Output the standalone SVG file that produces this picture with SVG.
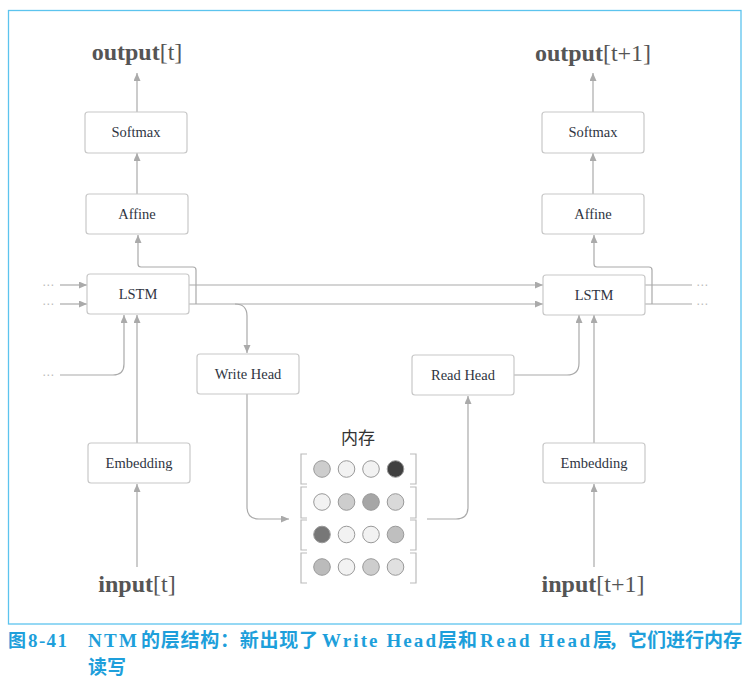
<svg xmlns="http://www.w3.org/2000/svg" width="750" height="689" viewBox="0 0 750 689">
<style>
.box{fill:#fff;stroke:#c8c8c8;stroke-width:1.2}
.lbl{font-family:"Liberation Serif","DejaVu Serif",serif;font-size:14.5px;fill:#2f3542;text-anchor:middle}
.io{font-family:"Liberation Serif","DejaVu Serif",serif;font-size:24px;fill:#555;text-anchor:middle}
.io .b{font-weight:bold}
.ln{fill:none;stroke:#aaa;stroke-width:1.2}
.arr{marker-end:url(#ah)}
.dots{font-family:"DejaVu Sans",sans-serif;font-size:12px;fill:#bbb}
.br{fill:none;stroke:#bbb;stroke-width:1.2}
.cell{stroke:#999;stroke-width:1}
.cap{font-family:"Liberation Serif","Noto Sans CJK SC",serif;font-size:19px;font-weight:bold;fill:#1e9fdb}
</style>
<defs>
<marker id="ah" markerUnits="userSpaceOnUse" markerWidth="9" markerHeight="8" refX="8" refY="3.5" orient="auto">
<path d="M0,0 L8,3.5 L0,7 z" fill="#aaa"/>
</marker>
</defs>
<rect x="8.5" y="10.5" width="732.5" height="613.5" fill="#fff" stroke="#5cc4ee" stroke-width="1.3"/>

<g id="connectors">
<path class="ln arr" d="M137,567 V484"/>
<path class="ln arr" d="M137,443 V315"/>
<path class="ln arr" d="M60,375 H113 Q124,375 124,364 V315"/>
<path class="ln arr" d="M60,285 H87"/>
<path class="ln arr" d="M60,304 H87"/>
<path class="ln arr" d="M189,285 H543"/>
<path class="ln arr" d="M189,304 H543"/>
<path class="ln arr" d="M196,304 V270 Q196,267 193,267 H141 Q138,267 138,264 V235"/>
<path class="ln arr" d="M137,194 V153"/>
<path class="ln arr" d="M137,112 V73"/>
<path class="ln arr" d="M235,304 Q247,304 247,316 V353"/>
<path class="ln arr" d="M247,394 V507 Q247,519 259,519 H289"/>
<path class="ln arr" d="M427,519 H456 Q468,519 468,507 V396"/>
<path class="ln arr" d="M514,375 H567 Q579,375 579,363 V315"/>
<path class="ln arr" d="M594,567 V484"/>
<path class="ln arr" d="M594,443 V315"/>
<path class="ln arr" d="M652,304 V270 Q652,267 649,267 H597 Q594,267 594,264 V235"/>
<path class="ln arr" d="M593,194 V153"/>
<path class="ln arr" d="M593,112 V73"/>
<path class="ln" d="M645,285 H692"/>
<path class="ln" d="M645,304 H692"/>
<text class="dots" x="42" y="289">⋯</text>
<text class="dots" x="42" y="308">⋯</text>
<text class="dots" x="42" y="379">⋯</text>
<text class="dots" x="696" y="289">⋯</text>
<text class="dots" x="696" y="308">⋯</text>
</g>

<g id="output_t"><text class="io" x="137" y="60"><tspan class="b">output</tspan>[t]</text></g>
<g id="output_t1"><text class="io" x="593" y="61"><tspan class="b">output</tspan>[t+1]</text></g>
<g id="input_t"><text class="io" x="137" y="592"><tspan class="b">input</tspan>[t]</text></g>
<g id="input_t1"><text class="io" x="593" y="592"><tspan class="b">input</tspan>[t+1]</text></g>

<g id="softmax_l"><rect class="box" x="85" y="112" width="102" height="41" rx="3"/><text class="lbl" x="136" y="137">Softmax</text></g>
<g id="affine_l"><rect class="box" x="86" y="194" width="102" height="40" rx="3"/><text class="lbl" x="137" y="219">Affine</text></g>
<g id="lstm_l"><rect class="box" x="87" y="274" width="102" height="40" rx="3"/><text class="lbl" x="138" y="299">LSTM</text></g>
<g id="embedding_l"><rect class="box" x="88" y="443" width="102" height="40" rx="3"/><text class="lbl" x="139" y="468">Embedding</text></g>

<g id="softmax_r"><rect class="box" x="542" y="112" width="102" height="41" rx="3"/><text class="lbl" x="593" y="137">Softmax</text></g>
<g id="affine_r"><rect class="box" x="542" y="194" width="102" height="40" rx="3"/><text class="lbl" x="593" y="219">Affine</text></g>
<g id="lstm_r"><rect class="box" x="543" y="275" width="102" height="40" rx="3"/><text class="lbl" x="594" y="300">LSTM</text></g>
<g id="embedding_r"><rect class="box" x="543" y="443" width="102" height="40" rx="3"/><text class="lbl" x="594" y="468">Embedding</text></g>

<g id="write_head"><rect class="box" x="197" y="354" width="102" height="40" rx="3"/><text class="lbl" x="248" y="379">Write Head</text></g>
<g id="read_head"><rect class="box" x="412" y="355" width="102" height="40" rx="3"/><text class="lbl" x="463" y="380">Read Head</text></g>

<g id="memory">
<text x="358" y="444" font-family="'Noto Sans CJK SC',sans-serif" font-size="17" fill="#333" text-anchor="middle">内存</text>
<path class="br" d="M307,454 H301 V484 H307 M410,454 H416 V484 H410"/>
<path class="br" d="M307,487 H301 V518 H307 M410,487 H416 V518 H410"/>
<path class="br" d="M307,520 H301 V550 H307 M410,520 H416 V550 H410"/>
<path class="br" d="M307,553 H301 V583 H307 M410,553 H416 V583 H410"/>
<circle class="cell" cx="322" cy="469" r="8.3" fill="#cdcdcd"/>
<circle class="cell" cx="346.5" cy="469" r="8.3" fill="#f2f2f2"/>
<circle class="cell" cx="371" cy="469" r="8.3" fill="#f2f2f2"/>
<circle class="cell" cx="395.5" cy="469" r="8.3" fill="#404040"/>
<circle class="cell" cx="322" cy="502" r="8.3" fill="#f2f2f2"/>
<circle class="cell" cx="346.5" cy="502" r="8.3" fill="#cdcdcd"/>
<circle class="cell" cx="371" cy="502" r="8.3" fill="#a6a6a6"/>
<circle class="cell" cx="395.5" cy="502" r="8.3" fill="#d9d9d9"/>
<circle class="cell" cx="322" cy="534.5" r="8.3" fill="#777"/>
<circle class="cell" cx="346.5" cy="534.5" r="8.3" fill="#f2f2f2"/>
<circle class="cell" cx="371" cy="534.5" r="8.3" fill="#f2f2f2"/>
<circle class="cell" cx="395.5" cy="534.5" r="8.3" fill="#bfbfbf"/>
<circle class="cell" cx="322" cy="567" r="8.3" fill="#bbb"/>
<circle class="cell" cx="346.5" cy="567" r="8.3" fill="#f2f2f2"/>
<circle class="cell" cx="371" cy="567" r="8.3" fill="#cdcdcd"/>
<circle class="cell" cx="395.5" cy="567" r="8.3" fill="#e0e0e0"/>
</g>

<g id="caption">
<text class="cap" y="647"><tspan x="8" font-size="18">图</tspan><tspan x="28" textLength="39" lengthAdjust="spacing">8-41</tspan></text>
<text class="cap" y="647"><tspan x="88" textLength="49" lengthAdjust="spacing">NTM</tspan><tspan x="141" textLength="177" lengthAdjust="spacing">的层结构：新出现了</tspan><tspan x="322" textLength="114" lengthAdjust="spacing">Write Head</tspan><tspan x="438" textLength="39" lengthAdjust="spacing">层和</tspan><tspan x="480" textLength="110" lengthAdjust="spacing">Read Head</tspan><tspan x="593" textLength="34" lengthAdjust="spacing">层，</tspan><tspan x="628" textLength="114" lengthAdjust="spacing">它们进行内存</tspan></text>
<text class="cap" x="88" y="674">读写</text>
</g>
</svg>
